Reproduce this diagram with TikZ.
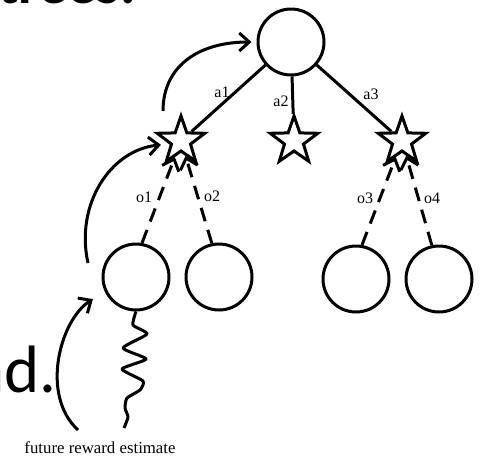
\documentclass[tikz,border=0pt]{standalone}
\usepackage{fontspec}
\setmainfont{Liberation Serif}
\newfontfamily\slidefont{Carlito}
\usetikzlibrary{arrows.meta,shapes.geometric}

\begin{document}
\begin{tikzpicture}[x=0.5pt, y=-0.5pt, line width=1.5pt,
    >={Straight Barb[length=5pt,width=9pt]},
    belief/.style={circle, draw, minimum size=33pt, inner sep=0pt},
    action/.style={star, star points=5, star point ratio=2.5, draw, minimum size=25pt, inner sep=0pt},
    obs/.style={->, dash pattern=on 7pt off 4.5pt},
    lbl/.style={font=\fontsize{8}{9}\selectfont, inner sep=0pt}]

    % fixed frame of the picture
    \useasboundingbox (0,0) rectangle (482,456);
    \clip (0,0) rectangle (482,456);

    % slide text behind the tree
    \node[anchor=base west, inner sep=0pt, font=\slidefont\bfseries\fontsize{29}{30}\selectfont] (title) at (-3,3) {trees.};
    \node[anchor=base east, inner sep=0pt, font=\slidefont\fontsize{33.5}{35}\selectfont] (body) at (58,392) {nd.};

    % root belief and the three actions
    \node[belief] (root) at (291,42) {};
    \node[action] (s1) at (181,141) {};
    \node[action] (s2) at (294,141) {};
    \node[action] (s3) at (402,141) {};

    \draw (root) -- (s1);
    \draw (root) -- (s2);
    \draw (root) -- (s3);
    \node[lbl] (la1) at (222,92) {a1};
    \node[lbl] (la2) at (281,101) {a2};
    \node[lbl] (la3) at (371,94) {a3};

    % beliefs after the observations
    \node[belief] (c1) at (136,277) {};
    \node[belief] (c2) at (219,277) {};
    \node[belief] (c3) at (356,279) {};
    \node[belief] (c4) at (439,279) {};

    \draw[obs] (c1.80) -- (s1);
    \draw[obs] (c2.102) -- (s1);
    \draw[obs] (c3.80) -- (s3);
    \draw[obs] (c4.102) -- (s3);
    \node[lbl] (lo1) at (144,197) {o1};
    \node[lbl] (lo2) at (212,196) {o2};
    \node[lbl] (lo3) at (365,198) {o3};
    \node[lbl] (lo4) at (432,198) {o4};

    % rollout below the leaf
    \draw[line join=round] plot[smooth, tension=0.35] coordinates {(c1.south) (133,325) (147,334) (123,348) (146,359) (122,369) (143,381) (140,390) (127,398) (125,408) (128,417) (124,428)};

    % values passed back up
    \coordinate (up1) at (163,111);
    \coordinate (up2) at (88,263);
    \coordinate (up3) at (78,430);
    \draw[->, shorten >=2.5pt] (up1) .. controls (163,65) and (200,42) .. (root.west);
    \draw[->, shorten >=4pt] (up2) .. controls (75,205) and (110,150) .. (s1.194);
    \draw[->, shorten >=7pt] (up3) .. controls (40,395) and (60,320) .. (c1.205);

    \node[font=\fontsize{8.4}{10}\selectfont, inner sep=0pt] (est) at (100,448) {future reward estimate};
\end{tikzpicture}
\end{document}
